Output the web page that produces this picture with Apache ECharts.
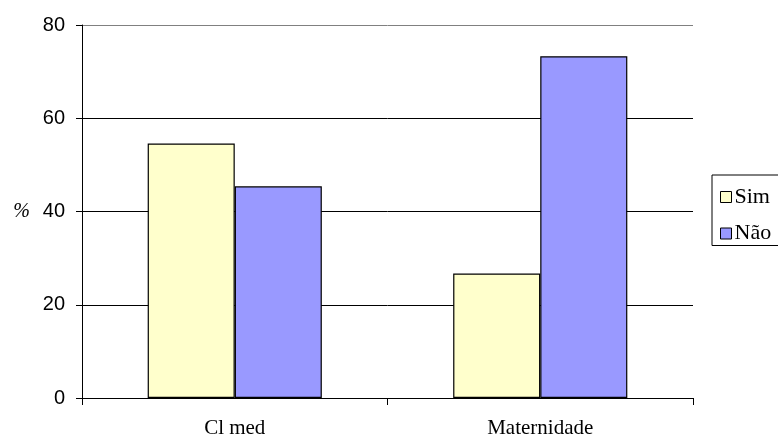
<!DOCTYPE html>
<html>
<head>
<meta charset="utf-8">
<script src="https://cdn.jsdelivr.net/npm/echarts@6/dist/echarts.min.js"></script>
<style>
  html, body { margin: 0; padding: 0; background: #fff; }
  #chart { width: 778px; height: 439px; }
</style>
</head>
<body>
<div id="chart"></div>
<script>
// Categories and series values (percent)
const categories = ['Cl med', 'Maternidade'];
const simValues = [54.6, 26.7];
const naoValues = [45.4, 73.3];
const seriesNames = ['Sim', 'Não'];

const chart = echarts.init(document.getElementById('chart'));

chart.setOption({
  animation: false,
  backgroundColor: '#ffffff',
  grid: { left: 82, right: 85, top: 25, bottom: 41, containLabel: false },
  legend: {
    orient: 'vertical',
    left: 712,
    top: 175,
    padding: [11, 12, 1, 8],
    itemGap: 14.5,
    itemWidth: 11,
    itemHeight: 11,
    borderColor: '#000',
    borderWidth: 1,
    borderRadius: 0,
    backgroundColor: '#fff',
    icon: 'rect',
    textStyle: { fontFamily: 'Liberation Serif', fontSize: 22, color: '#000', padding: [0, 0, 0, -2] },
    itemStyle: { borderColor: '#000', borderWidth: 1 },
    data: seriesNames
  },
  xAxis: {
    type: 'category',
    data: categories,
    boundaryGap: true,
    axisLine: { lineStyle: { color: '#000', width: 1 } },
    axisTick: { show: true, length: 7, lineStyle: { color: '#000' } },
    axisLabel: { fontFamily: 'Liberation Serif', fontSize: 21, color: '#000', margin: 20 },
    splitLine: { show: false }
  },
  yAxis: {
    type: 'value',
    min: 0,
    max: 80,
    interval: 20,
    name: '%',
    nameLocation: 'middle',
    nameRotate: 0,
    nameGap: 52,
    nameTextStyle: { fontFamily: 'Liberation Serif', fontStyle: 'italic', fontSize: 20, color: '#000' },
    axisLine: { show: true, lineStyle: { color: '#000', width: 1 } },
    axisTick: { show: true, length: 6, lineStyle: { color: '#000' } },
    axisLabel: { fontFamily: 'Liberation Sans', fontSize: 20, color: '#000', margin: 17 },
    splitLine: { show: true, lineStyle: { color: ['#000', '#000', '#000', '#000', '#808080'], width: 1 } }
  },
  series: [
    {
      name: seriesNames[0],
      type: 'bar',
      data: simValues,
      barGap: '0%',
      barCategoryGap: '43%',
      itemStyle: { color: '#FFFFCC', borderColor: '#000', borderWidth: 1.2 }
    },
    {
      name: seriesNames[1],
      type: 'bar',
      data: naoValues,
      barGap: '0%',
      barCategoryGap: '43%',
      itemStyle: { color: '#9999FF', borderColor: '#000', borderWidth: 1.2 }
    }
  ]
});
</script>
</body>
</html>
